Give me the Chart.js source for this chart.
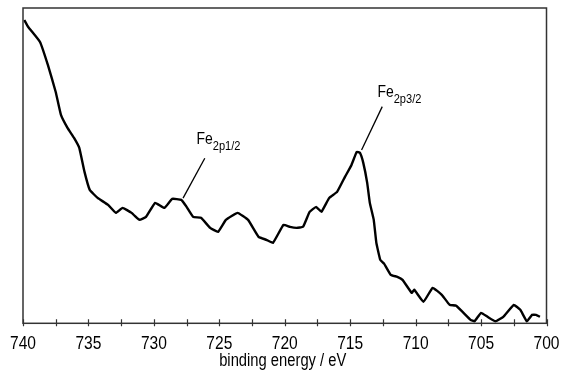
<!DOCTYPE html>
<html>
<head>
<meta charset="utf-8">
<script src="https://cdn.jsdelivr.net/npm/chart.js@4"></script>
<style>
    html, body { margin: 0; padding: 0; background: #fff; }
    #wrap { width: 563px; height: 374px; }
</style>
</head>
<body>
<div id="wrap"><canvas id="xpsChart" width="563" height="374"></canvas></div>
<script>
// binding energy (eV) and intensity (arb. units)
const energies = [
    739.9, 739.6, 738.7, 738.1, 737.5, 737.1, 736.6, 736.1, 735.7, 735.3,
    734.9, 734.3, 733.5, 732.9, 732.4, 731.7, 731.3, 731.1, 730.6, 729.9,
    729.2, 728.6, 727.9, 727.5, 727.0, 726.4, 725.7, 725.1, 724.5, 723.6,
    722.8, 722.0, 721.4, 720.9, 720.1, 719.6, 719.1, 718.6, 718.1, 717.6,
    717.2, 716.6, 716.0, 715.4, 714.9, 714.5, 714.25, 714.0, 713.7, 713.5,
    713.2, 713.0, 712.7, 712.4, 711.9, 711.4, 711.0, 710.3, 710.1, 709.4,
    708.7, 708.0, 707.4, 706.9, 705.8, 705.5, 705.0, 704.5, 703.9, 703.3,
    702.5, 702.0, 701.5, 701.1, 700.8, 700.5
];
const intensities = [
    302, 295, 280, 257, 230, 207, 194, 184, 174, 150,
    132, 124, 117, 109, 114, 109, 104, 102, 105, 119,
    114, 123, 122, 115, 105, 104, 94, 90, 102, 109,
    102, 85, 82, 79, 97, 95, 94, 95, 110, 115,
    110, 124, 130, 145, 157, 170, 169, 159, 139, 119,
    102, 79, 62, 58, 47, 45, 42, 29, 32, 20,
    34, 27, 17, 16, 2, 0.5, 9, 5, 0.5, 5,
    17, 12, 0.5, 7, 7, 5
];

const xTicks = [740, 735, 730, 725, 720, 715, 710, 705, 700];
const xMinorStep = 2.5;
const xTitle = 'binding energy / eV';

// peak labels: main text, subscript, label anchor, leader line ends
const peakNames = ['Fe', 'Fe'];
const peakSubs = ['2p1/2', '2p3/2'];
const peakTextAt = [[726.74, 178], [712.92, 224.5]];
const peakLineFrom = [[726.11, 163.7], [712.55, 215.3]];
const peakLineTo = [[727.77, 123.7], [714.13, 172]];

// the original uses a narrow sans; squeeze Liberation Sans to match
const FONT = "'Liberation Sans', Arial, sans-serif";
const SQUEEZE = 0.82;

function fillNarrow(ctx, text, x, y, size, align) {
    ctx.save();
    ctx.font = size + 'px ' + FONT;
    ctx.textBaseline = 'alphabetic';
    ctx.textAlign = align;
    ctx.translate(x, y);
    ctx.scale(SQUEEZE, 1);
    ctx.fillText(text, 0, 0);
    const w = ctx.measureText(text).width * SQUEEZE;
    ctx.restore();
    return w;
}

const frameAndLabels = {
    id: 'frameAndLabels',
    afterDraw(chart) {
        const ctx = chart.ctx;
        const area = chart.chartArea;
        const xs = chart.scales.x;
        const ys = chart.scales.y;

        ctx.save();
        // box around the plot
        ctx.strokeStyle = '#333';
        ctx.lineWidth = 1.5;
        ctx.strokeRect(area.left, area.top, area.right - area.left, area.bottom - area.top);

        // ticks crossing the bottom axis
        ctx.lineWidth = 1.2;
        ctx.beginPath();
        for (let v = xs.min; v <= xs.max; v += xMinorStep) {
            const px = Math.round(xs.getPixelForValue(v)) + 0.5;
            ctx.moveTo(px, area.bottom - 4);
            ctx.lineTo(px, area.bottom + 3);
        }
        ctx.stroke();

        // tick labels and axis title
        ctx.fillStyle = '#000';
        xTicks.forEach(v => {
            fillNarrow(ctx, String(v), xs.getPixelForValue(v), area.bottom + 26, 19, 'center');
        });
        fillNarrow(ctx, xTitle, (area.left + area.right) / 2 - 2, area.bottom + 43, 18, 'center');

        // peak labels with leader lines
        ctx.strokeStyle = '#000';
        ctx.lineWidth = 1.3;
        peakNames.forEach((name, i) => {
            ctx.beginPath();
            ctx.moveTo(xs.getPixelForValue(peakLineFrom[i][0]), ys.getPixelForValue(peakLineFrom[i][1]));
            ctx.lineTo(xs.getPixelForValue(peakLineTo[i][0]), ys.getPixelForValue(peakLineTo[i][1]));
            ctx.stroke();

            const tx = xs.getPixelForValue(peakTextAt[i][0]);
            const ty = ys.getPixelForValue(peakTextAt[i][1]);
            const w = fillNarrow(ctx, name, tx, ty, 17, 'left');
            fillNarrow(ctx, peakSubs[i], tx + w, ty + 6, 13.5, 'left');
        });
        ctx.restore();
    }
};

new Chart(document.getElementById('xpsChart'), {
    type: 'line',
    data: {
        datasets: [{
            data: energies.map((e, i) => ({ x: e, y: intensities[i] })),
            borderColor: '#000',
            borderWidth: 2.4,
            pointRadius: 0,
            tension: 0.1,
            fill: false
        }]
    },
    options: {
        responsive: false,
        animation: false,
        layout: { padding: { left: 23, right: 16.5, top: 8, bottom: 50.7 } },
        plugins: {
            legend: { display: false },
            tooltip: { enabled: false }
        },
        scales: {
            x: {
                type: 'linear',
                display: false,
                reverse: true,
                min: 700,
                max: 740
            },
            y: {
                display: false,
                min: -1.5,
                max: 314
            }
        }
    },
    plugins: [frameAndLabels]
});
</script>
</body>
</html>
